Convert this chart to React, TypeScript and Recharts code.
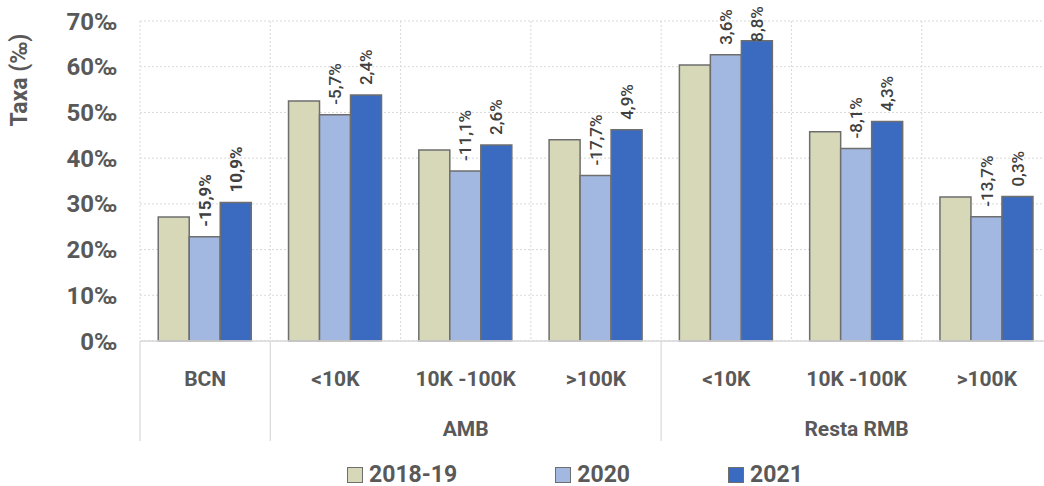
import React from 'react';
import { BarChart, Bar, XAxis, YAxis, CartesianGrid, Legend, LabelList } from 'recharts';

const categories = ['BCN', '<10K', '10K -100K', '>100K', '<10K', '10K -100K', '>100K'];
const groups = ['', 'AMB', 'AMB', 'AMB', 'Resta RMB', 'Resta RMB', 'Resta RMB'];
const v1819 = [27.1, 52.5, 41.8, 44.0, 60.4, 45.8, 31.5];
const v2020 = [22.8, 49.5, 37.2, 36.2, 62.6, 42.1, 27.2];
const v2021 = [30.3, 53.8, 42.9, 46.2, 65.7, 48.0, 31.6];
const lab2020 = ['-15,9%', '-5,7%', '-11,1%', '-17,7%', '3,6%', '-8,1%', '-13,7%'];
const lab2021 = ['10,9%', '2,4%', '2,6%', '4,9%', '8,8%', '4,3%', '0,3%'];
const yTicks = [0, 10, 20, 30, 40, 50, 60, 70];
const seriesNames = ['2018-19', '2020', '2021'];

const data = categories.map((c, i) => ({
  id: `${groups[i]} ${c} ${i}`,
  a: v1819[i],
  b: v2020[i],
  c: v2021[i],
  lb: lab2020[i],
  lc: lab2021[i],
}));

const CHART_W = 1060;
const CHART_H = 486;
const MARGIN = { top: 21, right: 8, left: 0, bottom: 0 };
const Y_W = 140;
const X_H = 100;
const LEG_H = 45;
const PLOT_X = MARGIN.left + Y_W;
const PLOT_W = CHART_W - MARGIN.left - MARGIN.right - Y_W;
const BW = PLOT_W / categories.length;
const vPoints = Array.from({ length: categories.length + 1 }, (_, k) => PLOT_X + k * BW);

const FONT = 'Roboto, "Open Sans", sans-serif';
const TXT = '#595959';
const LAB = '#404040';
const colors = ['#d6d8b8', '#a3b8e1', '#3b6bc1'];
const STROKE = '#6e6e6e';

const charW: Record<string, number> = { ',': 0.24, '-': 0.3, '%': 0.74 };
const textLen = (s: string, size: number) =>
  s.split('').reduce((acc, ch) => acc + (charW[ch] ?? 0.562) * size, 0);

const makeLabel = (fs: number) => (props: any) => {
  const { x, y, width, value, index } = props;
  const cx = x + width / 2;
  const len = textLen(String(value), fs);
  let bottom = y - 10;
  if (bottom - len < 6) bottom = 6 + len;
  const tx = cx + fs * 0.36;
  return (
    <text
      x={tx}
      y={bottom}
      transform={`rotate(-90 ${tx} ${bottom})`}
      textAnchor="start"
      fontFamily={FONT}
      fontSize={fs}
      fontWeight={index === 0 ? 700 : 500}
      fill={LAB}
    >
      {value}
    </text>
  );
};

const XTick = (props: any) => {
  const { x, y, payload } = props;
  const i = payload.index;
  const g = groups[i];
  const isStart = i === 0 || groups[i - 1] !== g;
  let end = i;
  while (end + 1 < groups.length && groups[end + 1] === g) end++;
  return (
    <g>
      <text x={x} y={y + 45} textAnchor="middle" fontFamily={FONT} fontSize={21} fontWeight={700} fill={TXT}>
        {categories[i]}
      </text>
      {isStart && (
        <line x1={x - BW / 2} x2={x - BW / 2} y1={y} y2={y + X_H} stroke="#d9d9d9" strokeWidth={1.2} />
      )}
      {isStart && g && (
        <text x={x + ((end - i) * BW) / 2} y={y + 95} textAnchor="middle" fontFamily={FONT} fontSize={21} fontWeight={700} fill={TXT}>
          {g}
        </text>
      )}
    </g>
  );
};

const YTick = (props: any) => {
  const { y, payload } = props;
  return (
    <text x={PLOT_X - 23} y={y} dy="0.36em" textAnchor="end" fontFamily={FONT} fontSize={24} fontWeight={700} fill={TXT}>
      {`${payload.value}‰`}
    </text>
  );
};

const YTitle = () => (
  <text
    x={27}
    y={80}
    transform="rotate(-90 27 80)"
    textAnchor="middle"
    fontFamily={FONT}
    fontSize={23}
    fontWeight={700}
    fill={TXT}
  >
    Taxa (‰)
  </text>
);

const LegendContent = (props: any) => {
  const { payload } = props;
  return (
    <div style={{ display: 'flex', alignItems: 'center', height: LEG_H, paddingLeft: 347, paddingTop: 22, boxSizing: 'border-box' }}>
      {(payload || []).map((p: any, k: number) => (
        <div key={k} style={{ display: 'flex', alignItems: 'center', marginRight: 98 }}>
          <div style={{ width: 14, height: 14, background: p.color, border: `1px solid ${STROKE}`, marginRight: 6 }} />
          <span style={{ fontFamily: FONT, fontSize: 23, fontWeight: 700, color: TXT, lineHeight: '24px' }}>{p.value}</span>
        </div>
      ))}
    </div>
  );
};

export default function App() {
  return (
    <div style={{ position: 'absolute', left: 0, top: 0, width: 1044, height: 486, overflow: 'hidden', background: '#fff' }}>
      <BarChart width={CHART_W} height={CHART_H} data={data} margin={MARGIN} barCategoryGap="14%" barGap={0}>
        <CartesianGrid strokeDasharray="2 2" stroke="#d9d9d9" verticalPoints={vPoints} />
        <XAxis
          dataKey="id"
          height={X_H}
          interval={0}
          tickLine={false}
          tickSize={0}
          tickMargin={0}
          axisLine={{ stroke: '#d9d9d9', strokeWidth: 1.5 }}
          tick={<XTick />}
        />
        <YAxis
          width={Y_W}
          domain={[0, 70]}
          ticks={yTicks}
          interval={0}
          axisLine={false}
          tickLine={false}
          tick={<YTick />}
          label={{ content: () => <YTitle /> }}
        />
        <Legend
          verticalAlign="bottom"
          height={LEG_H}
          wrapperStyle={{ left: 0, width: 1044, height: LEG_H, bottom: 0 }}
          content={<LegendContent />}
        />
        <Bar dataKey="a" name={seriesNames[0]} fill={colors[0]} stroke={STROKE} strokeWidth={1.5} isAnimationActive={false} />
        <Bar dataKey="b" name={seriesNames[1]} fill={colors[1]} stroke={STROKE} strokeWidth={1.5} isAnimationActive={false}>
          <LabelList dataKey="lb" content={makeLabel(17)} />
        </Bar>
        <Bar dataKey="c" name={seriesNames[2]} fill={colors[2]} stroke={STROKE} strokeWidth={1.5} isAnimationActive={false}>
          <LabelList dataKey="lc" content={makeLabel(17)} />
        </Bar>
      </BarChart>
    </div>
  );
}
